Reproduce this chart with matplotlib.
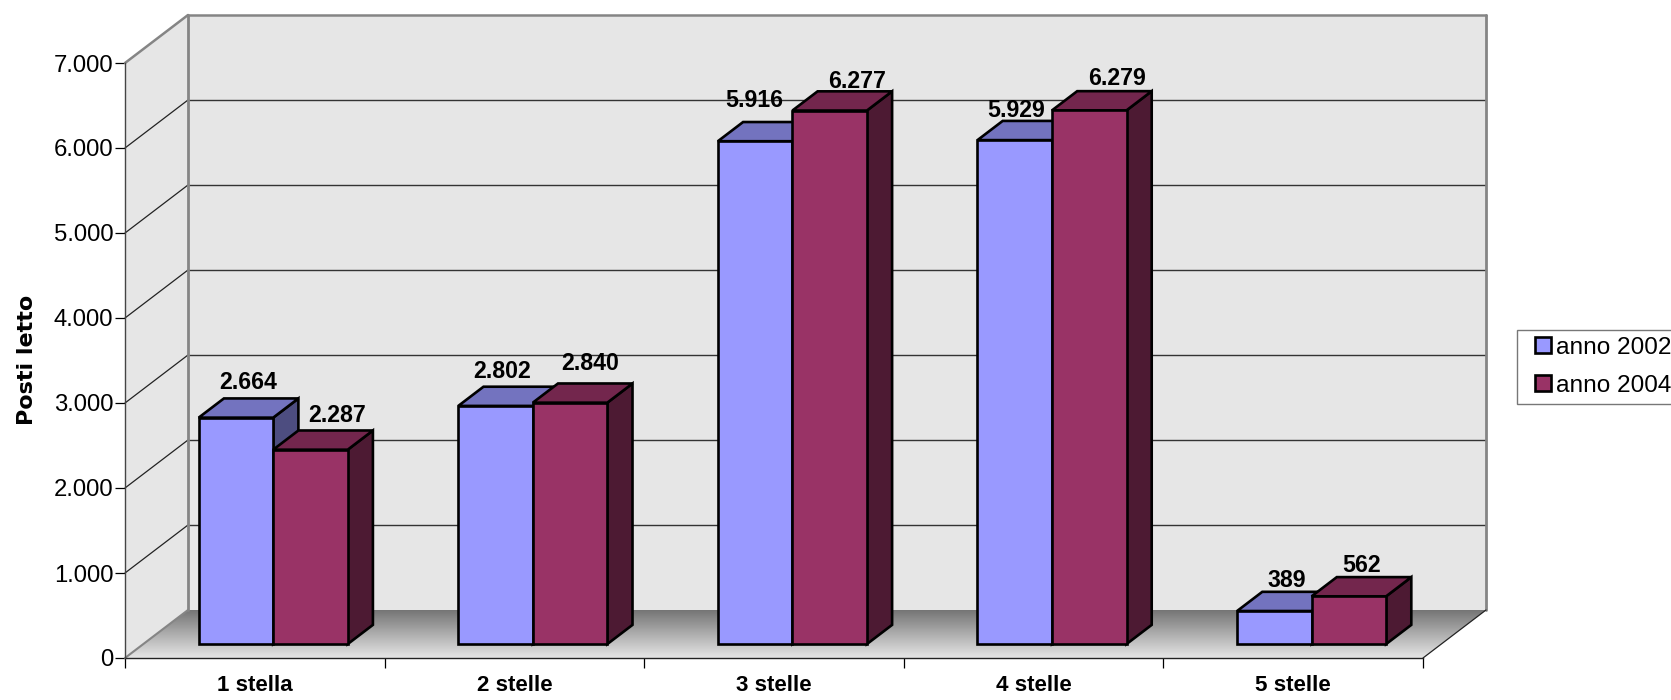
import matplotlib
matplotlib.use('Agg')
import matplotlib.pyplot as plt
from matplotlib.legend_handler import HandlerPatch
from matplotlib.patches import Polygon, Rectangle
import numpy as np

categories = ['1 stella', '2 stelle', '3 stelle', '4 stelle', '5 stelle']
anno_2002 = [2664, 2802, 5916, 5929, 389]
anno_2004 = [2287, 2840, 6277, 6279, 562]
value_labels_2002 = ['2.664', '2.802', '5.916', '5.929', '389']
value_labels_2004 = ['2.287', '2.840', '6.277', '6.279', '562']
y_ticks = [0, 1000, 2000, 3000, 4000, 5000, 6000, 7000]
y_tick_labels = ['0', '1.000', '2.000', '3.000', '4.000', '5.000', '6.000', '7.000']

#label offsets from the centre of the bar top, in pixels
nudge_2002 = [(0, 16), (-6, 15), (-14, 22), (-11, 10), (0, 11)]
nudge_2004 = [(14, 15), (8, 20), (15, 10), (15, 13), (0, 12)]

plt.rcParams['font.family'] = ['Liberation Sans', 'DejaVu Sans']

W, H = 1671, 700
fig = plt.figure(figsize=(W / 100, H / 100), dpi=100)
ax = fig.add_axes([125 / W, 1 - 658 / H, 1298 / W, 595 / H])
ax.set_xlim(0, 5)
ax.set_ylim(0, 7000)

#oblique projection: depth goes from 0 (front) to 1 (back wall)
depth_x = 63 / (1298 / 5)
depth_y = 48 / (595 / 7000)


def project(x, y, z):
    return (x + z * depth_x, y + z * depth_y)


def poly(points, **kw):
    p = Polygon([project(*pt) for pt in points], closed=True, clip_on=False, **kw)
    ax.add_patch(p)
    return p


def line(a, b, **kw):
    pa, pb = project(*a), project(*b)
    ax.plot([pa[0], pb[0]], [pa[1], pb[1]], clip_on=False, solid_capstyle='round', **kw)


wall = '#e6e6e6'
frame = '#858585'
poly([(0, 0, 0), (0, 7000, 0), (0, 7000, 1), (0, 0, 1)], facecolor=wall, edgecolor='none', zorder=1)
poly([(0, 0, 1), (0, 7000, 1), (5, 7000, 1), (5, 0, 1)], facecolor=wall, edgecolor='none', zorder=1)

#floor with the dark shadow along the back wall
floor = poly([(0, 0, 0), (5, 0, 0), (5, 0, 1), (0, 0, 1)], facecolor='none', edgecolor='none', zorder=1)
shade = np.linspace(0.46, 0.90, 100).reshape(-1, 1)
im = ax.imshow(shade, cmap='gray', vmin=0, vmax=1, aspect='auto', zorder=1.5,
               extent=(0, 5 + depth_x, 0, depth_y), origin='upper')
im.set_clip_path(floor)
im.set_clip_box(fig.bbox)
ax.set_xlim(0, 5)
ax.set_ylim(0, 7000)

#gridlines on both walls
for v in y_ticks[1:-1]:
    line((0, v, 0), (0, v, 1), color='#222222', lw=0.9, zorder=2)
    line((0, v, 1), (5, v, 1), color='#333333', lw=1.0, zorder=2)

#wall frame
line((0, 7000, 0), (0, 7000, 1), color=frame, lw=1.8, zorder=2.5)
line((0, 7000, 1), (5, 7000, 1), color=frame, lw=1.8, zorder=2.5)
line((0, 0, 1), (0, 7000, 1), color=frame, lw=2.0, zorder=2.5)
line((5, 0, 1), (5, 7000, 1), color=frame, lw=2.0, zorder=2.5)
line((0, 0, 0), (0, 0, 1), color=frame, lw=1.5, zorder=2.5)
line((5, 0, 0), (5, 0, 1), color='#222222', lw=0.9, zorder=2.5)

bar_w = 0.287
gap = 0.2135
z0, z1 = 0.29, 0.69
edge = dict(edgecolor='black', linewidth=1.9, joinstyle='miter')


def bar3d(x, value, colors, order):
    front, top, side = colors
    poly([(x + bar_w, 0, z0), (x + bar_w, value, z0), (x + bar_w, value, z1), (x + bar_w, 0, z1)],
         facecolor=side, zorder=order, **edge)
    poly([(x, value, z0), (x + bar_w, value, z0), (x + bar_w, value, z1), (x, value, z1)],
         facecolor=top, zorder=order, **edge)
    poly([(x, 0, z0), (x + bar_w, 0, z0), (x + bar_w, value, z0), (x, value, z0)],
         facecolor=front, zorder=order, **edge)


colors_2002 = ('#9999ff', '#7373bf', '#4d4d80')
colors_2004 = ('#993366', '#73264d', '#4d1a33')
series = [(anno_2002, value_labels_2002, nudge_2002, colors_2002, 0),
          (anno_2004, value_labels_2004, nudge_2004, colors_2004, 1)]
for i in range(len(categories)):
    for values, labels, nudge, colors, s in series:
        x = i + gap + s * bar_w
        bar3d(x, values[i], colors, 3 + i + s * 0.1)
        cx = project(x + bar_w / 2, values[i], (z0 + z1) / 2)[0]
        cy = project(x + bar_w / 2, values[i], z1)[1]
        ax.annotate(labels[i], (cx, cy), xytext=nudge[i], textcoords='offset pixels',
                    ha='center', va='center', fontsize=16.7, fontweight='bold',
                    annotation_clip=False, zorder=20)

#axes: real spines and ticks on the front plane
for name in ['top', 'right']:
    ax.spines[name].set_visible(False)
ax.spines['left'].set_color('#444444')
ax.spines['bottom'].set_color('#222222')
ax.spines['left'].set_linewidth(1.0)
ax.spines['bottom'].set_linewidth(1.0)
ax.spines['left'].set_zorder(2.6)
ax.set_yticks(y_ticks)
ax.set_yticklabels(y_tick_labels, fontsize=17.2)
ax.set_xticks(range(6))
ax.set_xticklabels([])
ax.set_xticks(np.arange(5) + 0.5, minor=True)
ax.set_xticklabels(categories, minor=True, fontsize=16.1, fontweight='bold')
ax.tick_params(axis='y', length=7.5, width=0.9, pad=1)
ax.tick_params(axis='x', which='major', length=7.5, width=0.9)
ax.tick_params(axis='x', which='minor', length=0, pad=12)
ax.set_ylabel('Posti letto', fontsize=16, fontweight='bold', family=['DejaVu Sans'])
ax.yaxis.set_label_coords(-88 / 1298, 0.5008)


#small square at the right end of the handle box, as in the original key
def key_square(legend, orig_handle, xdescent, ydescent, width, height, fontsize):
    size = 11.5
    return Rectangle((width - size - xdescent, (height - size) / 2 - ydescent), size, size)


handles = [Rectangle((0, 0), 1, 1, facecolor=colors_2002[0], edgecolor='black', linewidth=1.9),
           Rectangle((0, 0), 1, 1, facecolor=colors_2004[0], edgecolor='black', linewidth=1.9)]
leg = fig.legend(handles, ['anno 2002', 'anno 2004'], loc='upper left',
                 bbox_to_anchor=(1517 / W, 1 - 330 / H), fontsize=17.6, fancybox=False,
                 framealpha=1, edgecolor='#777777', handlelength=1.1, handleheight=0.7,
                 handletextpad=0.2, labelspacing=0.64, borderpad=0.28, borderaxespad=0,
                 handler_map={Rectangle: HandlerPatch(patch_func=key_square)})
leg.get_frame().set_linewidth(1.0)

fig.savefig('out.png', dpi=100)
